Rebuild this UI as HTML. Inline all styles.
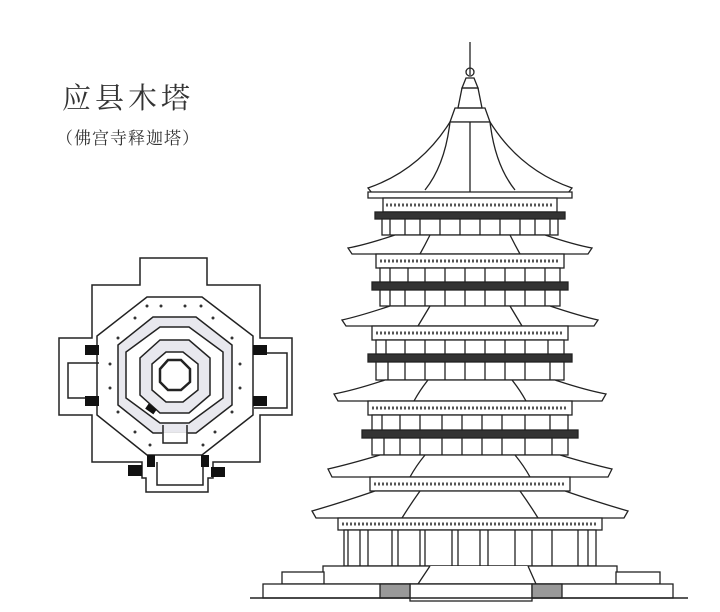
<!DOCTYPE html>
<html><head><meta charset="utf-8"><style>
html,body{margin:0;padding:0;background:#fff;}
svg{display:block}
</style></head><body>
<svg width="720" height="612" viewBox="0 0 720 612" xmlns="http://www.w3.org/2000/svg" fill="none" stroke="#222" stroke-width="1.3">
<text x="62" y="108" font-family="Liberation Serif,'Noto Serif CJK SC',serif" font-size="29" fill="#333" stroke="none" letter-spacing="4">应县木塔</text>
<text x="56" y="144" font-family="Liberation Serif,'Noto Serif CJK SC',serif" font-size="17" fill="#333" stroke="none" letter-spacing="1">（佛宫寺释迦塔）</text>

<!-- Plan -->
<g stroke-width="1.5">
<path d="M140 258 H207 V285 H260 V338 H292 V415 H260 V462 H213 V478 H208 V492 H146 V478 H142 V462 H92 V415 H59 V338 H92 V285 H140 Z"/>
<path d="M99 363 H68 V398 H99"/><path d="M254 353 H287 V408 H254"/>
<path d="M157 462 V485 H203 V462"/>
<polygon points="147,297 202,297 253,336 253,415 202,455 147,455 97,415 97,336"/>
<polygon points="153,317 196,317 232,345 232,405 196,433 153,433 118,405 118,345" fill="#e8e8ee"/>
<polygon points="160,327 189,327 223,352 223,398 189,423 160,423 126,398 126,352" fill="#fff"/>
<polygon points="160,340 189,340 210,358 210,395 189,413 160,413 140,395 140,358" fill="#e8e8ee"/>
<polygon points="166,352 183,352 198,364 198,390 183,402 166,402 152,390 152,364" fill="#fff"/>
<polygon points="168,360 181,360 190,369 190,382 181,390 168,390 160,382 160,369" stroke-width="2.5"/>
<rect x="163" y="433" width="24" height="12" fill="#fff" stroke="#fff"/>
<path d="M163 425 V443 H187 V425"/>
</g>
<g fill="#111" stroke="none">
<rect x="85" y="345" width="14" height="10"/><rect x="85" y="396" width="14" height="10"/>
<rect x="253" y="345" width="14" height="10"/><rect x="253" y="396" width="14" height="10"/>
<rect x="128" y="465" width="14" height="11"/><rect x="147" y="455" width="8" height="12"/>
<rect x="201" y="455" width="8" height="12"/><rect x="211" y="467" width="14" height="10"/>
<rect x="146" y="406" width="10" height="6" transform="rotate(35 151 409)"/>
</g>
<g fill="#333" stroke="none">
<circle cx="147" cy="306" r="1.5"/><circle cx="161" cy="306" r="1.5"/><circle cx="185" cy="306" r="1.5"/><circle cx="201" cy="306" r="1.5"/>
<circle cx="135" cy="318" r="1.5"/><circle cx="213" cy="318" r="1.5"/>
<circle cx="118" cy="338" r="1.5"/><circle cx="232" cy="338" r="1.5"/>
<circle cx="110" cy="364" r="1.5"/><circle cx="240" cy="364" r="1.5"/>
<circle cx="110" cy="388" r="1.5"/><circle cx="240" cy="388" r="1.5"/>
<circle cx="118" cy="412" r="1.5"/><circle cx="232" cy="412" r="1.5"/>
<circle cx="135" cy="432" r="1.5"/><circle cx="215" cy="432" r="1.5"/>
<circle cx="150" cy="445" r="1.5"/><circle cx="203" cy="445" r="1.5"/>
</g>

<!-- Pagoda -->
<g>
<line x1="470" y1="42" x2="470" y2="75"/>
<circle cx="470" cy="72" r="4"/>
<path d="M466 78 L474 78 L478 88 L462 88 Z"/>
<path d="M462 88 L478 88 L482 108 L458 108 Z"/>
<path d="M455 108 H485 L490 122 H450 Z"/>
<path d="M450 122 Q420 170 368 188 L372 193 Q430 196 470 193 Q510 196 568 193 L572 188 Q520 170 490 122 Z" fill="#fff"/>
<path d="M470 122 V193 M450 122 Q445 165 425 190 M490 122 Q495 165 515 190" />
<path d="M368 192 H572 V198 H368 Z" fill="#fff"/>
</g>

<g fill="#fff">
<rect x="383" y="198" width="174" height="14"/>
<path d="M386 205 H554" stroke-dasharray="2 2" stroke-width="3" stroke="#555"/>
<rect x="375" y="212" width="190" height="7" fill="#333"/>
<rect x="382" y="219" width="176" height="16"/>
<path d="M390 219 V235 M405 219 V235 M420 219 V235 M440 219 V235 M460 219 V235 M480 219 V235 M500 219 V235 M520 219 V235 M535 219 V235 M550 219 V235"/>
<path d="M395 235 H545 Q575 245 592 248 L588 254 H352 L348 248 Q365 245 395 235 Z"/>
<path d="M430 235 Q425 245 420 254 M510 235 Q515 245 520 254"/>
<rect x="376" y="254" width="188" height="14"/>
<path d="M380 261 H560" stroke-dasharray="2 2" stroke-width="3" stroke="#555"/>
<rect x="372" y="282" width="196" height="8" fill="#333"/>
<rect x="380" y="268" width="180" height="14"/>
<path d="M390 268 V282 M408 268 V282 M425 268 V282 M445 268 V282 M465 268 V282 M485 268 V282 M505 268 V282 M525 268 V282 M545 268 V282"/>
<rect x="380" y="290" width="180" height="16"/>
<path d="M390 290 V306 M405 290 V306 M425 290 V306 M445 290 V306 M465 290 V306 M485 290 V306 M505 290 V306 M525 290 V306 M545 290 V306"/>
<path d="M390 306 H550 Q580 316 598 320 L594 326 H346 L342 320 Q360 316 390 306 Z"/>
<path d="M430 306 Q424 316 418 326 M510 306 Q516 316 522 326"/>
<rect x="372" y="326" width="196" height="14"/>
<path d="M376 333 H564" stroke-dasharray="2 2" stroke-width="3" stroke="#555"/>
<rect x="368" y="354" width="204" height="8" fill="#333"/>
<rect x="376" y="340" width="188" height="14"/>
<path d="M386 340 V354 M405 340 V354 M425 340 V354 M445 340 V354 M465 340 V354 M485 340 V354 M505 340 V354 M525 340 V354 M548 340 V354"/>
<rect x="376" y="362" width="188" height="18"/>
<path d="M388 362 V380 M405 362 V380 M425 362 V380 M445 362 V380 M465 362 V380 M485 362 V380 M505 362 V380 M525 362 V380 M550 362 V380"/>
<path d="M385 380 H555 Q585 390 606 394 L602 401 H338 L334 394 Q355 390 385 380 Z"/>
<path d="M428 380 Q420 390 414 401 M512 380 Q520 390 526 401"/>
<rect x="368" y="401" width="204" height="14"/>
<path d="M372 408 H568" stroke-dasharray="2 2" stroke-width="3" stroke="#555"/>
<rect x="362" y="430" width="216" height="8" fill="#333"/>
<rect x="372" y="415" width="196" height="15"/>
<path d="M382 415 V430 M400 415 V430 M420 415 V430 M442 415 V430 M462 415 V430 M482 415 V430 M502 415 V430 M525 415 V430 M550 415 V430"/>
<rect x="372" y="438" width="196" height="17"/>
<path d="M384 438 V455 M400 438 V455 M420 438 V455 M442 438 V455 M462 438 V455 M482 438 V455 M502 438 V455 M525 438 V455 M552 438 V455"/>
<path d="M380 455 H560 Q590 464 612 469 L608 477 H332 L328 469 Q350 464 380 455 Z"/>
<path d="M425 455 Q416 466 410 477 M515 455 Q524 466 530 477"/>
<rect x="370" y="477" width="200" height="14"/>
<path d="M374 484 H566" stroke-dasharray="2 2" stroke-width="3" stroke="#555"/>
<path d="M375 491 H565 Q600 503 628 511 L624 518 H316 L312 511 Q340 503 375 491 Z"/>
<path d="M420 491 Q410 505 402 518 M520 491 Q530 505 538 518"/>
<rect x="338" y="518" width="264" height="12"/>
<path d="M342 524 H598" stroke-dasharray="2 2" stroke-width="3" stroke="#555"/>
<rect x="344" y="530" width="252" height="36"/>
<path d="M348 530 V566 M360 530 V566 M368 530 V566 M392 530 V566 M398 530 V566 M420 530 V566 M425 530 V566 M452 530 V566 M458 530 V566 M480 530 V566 M488 530 V566 M515 530 V566 M532 530 V566 M552 530 V566 M578 530 V566 M588 530 V566"/>
<rect x="323" y="566" width="294" height="18"/>
<path d="M430 566 L418 584 H536 L528 566"/>
<rect x="282" y="572" width="42" height="12"/>
<rect x="616" y="572" width="44" height="12"/>
<rect x="263" y="584" width="410" height="14"/>
<rect x="410" y="584" width="122" height="17"/>
<rect x="380" y="584" width="30" height="14" fill="#999"/>
<rect x="532" y="584" width="30" height="14" fill="#999"/>
<line x1="250" y1="598" x2="688" y2="598" stroke-width="1.6"/>
</g>
</svg>
</body></html>
